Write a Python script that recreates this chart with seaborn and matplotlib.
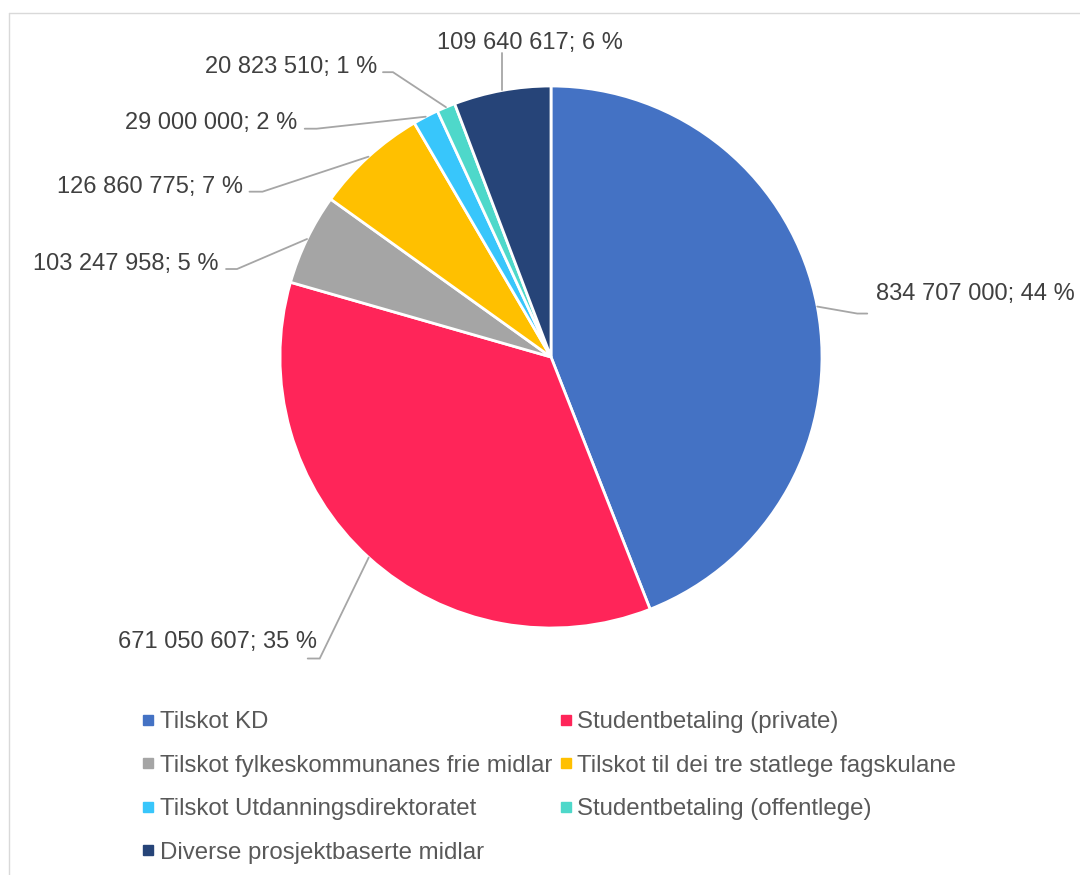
import seaborn as sns
import matplotlib.pyplot as plt
import numpy as np
from matplotlib.lines import Line2D

# data
categories = ['Tilskot KD', 'Studentbetaling (private)',
              'Tilskot fylkeskommunanes frie midlar',
              'Tilskot til dei tre statlege fagskulane',
              'Tilskot Utdanningsdirektoratet',
              'Studentbetaling (offentlege)',
              'Diverse prosjektbaserte midlar']
amounts = [834707000, 671050607, 103247958, 126860775, 29000000, 20823510, 109640617]
colors = ['#4472C4', '#FF2559', '#A5A5A5', '#FFC000', '#38C6FB', '#4ED8CA', '#264478']

# leader line layout in pixels: elbow offset from edge, tail length, text offset from tail end, align
label_layout = [
    ((40, 7), 10, (9, -22), 'left'),
    ((-49, 101), -12, (9, -19), 'right'),
    ((-70, 30), -11, (-8, -8), 'right'),
    ((-106, 35), -13, (-6, -7), 'right'),
    ((-109, 12), -12, (-7, -8), 'right'),
    ((-53, -35), -10, (-6, -8), 'right'),
    ((0, -37), 0, (28, -13), 'center'),
]

sns.set_theme(style="white")
plt.rcParams['font.family'] = ['Liberation Sans', 'DejaVu Sans']

W, H = 1080, 875
R = 271.0
cx, cy = 551, 357
fig = plt.figure(figsize=(W / 100, H / 100), dpi=100)
ax = fig.add_axes([(cx - R) / W, (H - cy - R) / H, 2 * R / W, 2 * R / H])

wedges, _ = ax.pie(amounts, colors=colors, startangle=90, counterclock=False,
                   radius=1, wedgeprops=dict(edgecolor='white', linewidth=2))
ax.set_xlim(-1, 1)
ax.set_ylim(-1, 1)
ax.set_aspect('equal')
ax.axis('off')

total = sum(amounts)
for w, val, (elbow, tail, toff, ha) in zip(wedges, amounts, label_layout):
    theta = np.deg2rad((w.theta1 + w.theta2) / 2)
    x0, y0 = np.cos(theta), np.sin(theta)
    x1, y1 = x0 + elbow[0] / R, y0 - elbow[1] / R
    x2 = x1 + tail / R
    ax.plot([x0, x1, x2], [y0, y1, y1], color='#A6A6A6', lw=1.3,
            clip_on=False, solid_joinstyle='miter')
    txt = f"{val:,}".replace(',', ' ') + f"; {round(val / total * 100):.0f} %"
    # baseline sits ~8.5 px below the cap centre
    ax.text(x2 + toff[0] / R, y1 - (toff[1] + 8.5) / R, txt, ha=ha, va='baseline',
            fontsize=17, color='#404040', clip_on=False)

# legend in row-major order like the original
order = [0, 2, 4, 6, 1, 3, 5]
handles = [Line2D([], [], marker='s', linestyle='none', markersize=6.5,
                  markerfacecolor=colors[i], markeredgecolor=colors[i]) for i in order]
labels = [categories[i] for i in order]
fig.legend(handles, labels, loc='upper left', bbox_to_anchor=(141 / W, 1 - 711 / H),
           ncol=2, frameon=False, fontsize=17.3, labelcolor='#595959',
           handlelength=0.6, handletextpad=0.17, columnspacing=0.28,
           labelspacing=0.9, borderpad=0, borderaxespad=0)

# light chart border
fig.add_artist(Line2D([8.5 / W, 8.5 / W], [0, 1 - 12.5 / H], color='#D9D9D9', lw=1))
fig.add_artist(Line2D([8.5 / W, 1], [1 - 12.5 / H, 1 - 12.5 / H], color='#D9D9D9', lw=1))

fig.savefig('out.png', dpi=100, facecolor='white')
